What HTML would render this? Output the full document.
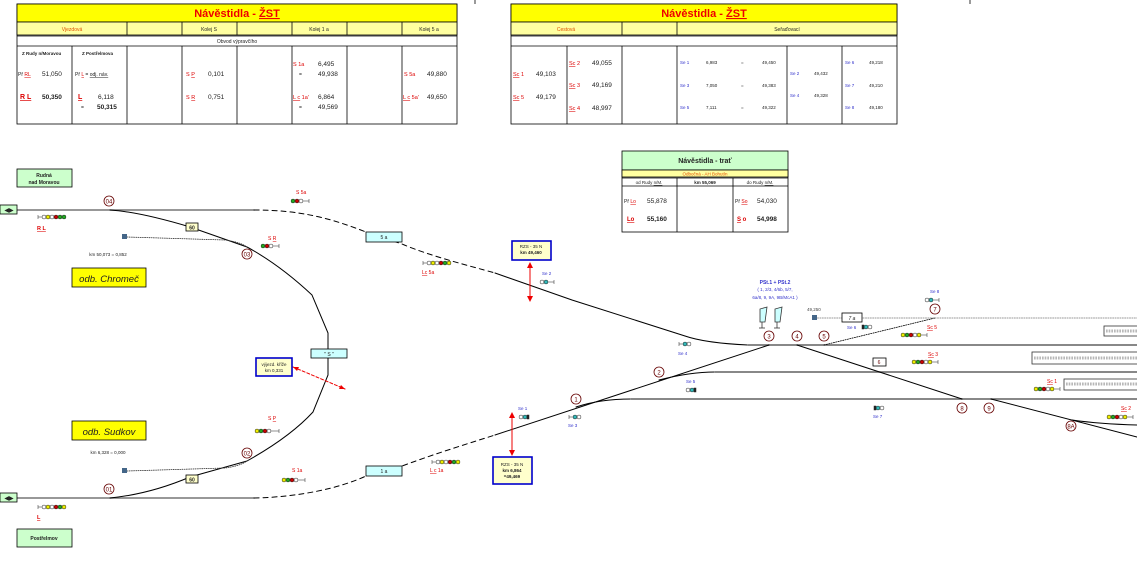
<!DOCTYPE html>
<html><head><meta charset="utf-8"><style>
html,body{margin:0;padding:0;background:#fff}
svg{display:block}
text{font-family:"Liberation Sans",sans-serif}
.s{font-size:5px;fill:#222}
.r{font-size:5.5px;fill:#d00}
.b{font-size:5px;fill:#33c}
.n{font-size:6.5px;fill:#222}
.c{fill:#fff;stroke:#600;stroke-width:0.8}
.ct{font-size:6px;fill:#600;text-anchor:middle}
</style></head><body>
<svg width="1137" height="561" viewBox="0 0 1137 561" xmlns="http://www.w3.org/2000/svg">
<line x1="475" y1="0" x2="475" y2="4" stroke="#000" stroke-width="0.8"/>
<line x1="970" y1="0" x2="970" y2="4" stroke="#000" stroke-width="0.8"/>

<!-- TABLE 1 -->
<g stroke="#000" stroke-width="0.8" fill="none">
<rect x="17" y="4" width="440" height="120" fill="#fff"/>
<rect x="17" y="4" width="440" height="18" fill="#ffff00"/>
<rect x="17" y="22" width="440" height="13" fill="#ffffa0"/>
<line x1="17" y1="36" x2="457" y2="36"/>
<line x1="17" y1="46" x2="457" y2="46"/>
<line x1="127" y1="22" x2="127" y2="35"/><line x1="182" y1="22" x2="182" y2="35"/><line x1="237" y1="22" x2="237" y2="35"/><line x1="292" y1="22" x2="292" y2="35"/><line x1="347" y1="22" x2="347" y2="35"/><line x1="402" y1="22" x2="402" y2="35"/>
<line x1="72" y1="46" x2="72" y2="124"/><line x1="127" y1="46" x2="127" y2="124"/><line x1="182" y1="46" x2="182" y2="124"/><line x1="237" y1="46" x2="237" y2="124"/><line x1="292" y1="46" x2="292" y2="124"/><line x1="347" y1="46" x2="347" y2="124"/><line x1="402" y1="46" x2="402" y2="124"/>
</g>
<text x="237" y="17" font-size="11" font-weight="bold" fill="#e00" text-anchor="middle">Návěstidla -  <tspan text-decoration="underline">ŽST</tspan></text>
<text x="72" y="31" font-size="5" fill="#e05000" text-anchor="middle">Vjezdová</text>
<text x="209" y="31" class="s" text-anchor="middle">Kolej S</text>
<text x="319" y="31" class="s" text-anchor="middle">Kolej 1 a</text>
<text x="429" y="31" class="s" text-anchor="middle">Kolej 5 a</text>
<text x="237" y="43" class="s" text-anchor="middle">Obvod  výpravčího</text>
<text x="22" y="55" font-size="4.5" font-weight="bold" fill="#222">Z Rudy n/Moravou</text>
<text x="82" y="55" font-size="4.5" font-weight="bold" fill="#222">Z Postřelmova</text>
<text x="18" y="76" class="s">Př <tspan fill="#d00" text-decoration="underline">RL</tspan></text>
<text x="42" y="76" class="n">51,050</text>
<text x="20" y="99" font-size="7" font-weight="bold" fill="#d00" text-decoration="underline">R L</text>
<text x="42" y="99" class="n" font-weight="bold">50,350</text>
<text x="75" y="76" class="s">Př <tspan fill="#d00" text-decoration="underline">L</tspan>   = <tspan text-decoration="underline">odj. náv.</tspan></text>
<text x="78" y="99" font-size="7" font-weight="bold" fill="#d00" text-decoration="underline">L</text>
<text x="98" y="99" class="n">6,118</text>
<text x="81" y="109" class="s">=</text>
<text x="97" y="109" class="n" font-weight="bold">50,315</text>
<text x="186" y="76" class="r">S <tspan text-decoration="underline">P</tspan></text>
<text x="208" y="76" class="n">0,101</text>
<text x="186" y="99" class="r">S <tspan text-decoration="underline">R</tspan></text>
<text x="208" y="99" class="n">0,751</text>
<text x="293" y="66" class="r">S 1a</text><text x="318" y="66" class="n">6,495</text>
<text x="299" y="76" class="s">=</text><text x="318" y="76" class="n">49,938</text>
<text x="293" y="99" class="r"><tspan text-decoration="underline">L c</tspan> 1a'</text><text x="318" y="99" class="n">6,864</text>
<text x="299" y="109" class="s">=</text><text x="318" y="109" class="n">49,569</text>
<text x="404" y="76" class="r">S 5a</text><text x="427" y="76" class="n">49,880</text>
<text x="403" y="99" class="r"><tspan text-decoration="underline">L c</tspan> 5a'</text><text x="427" y="99" class="n">49,650</text>

<!-- TABLE 2 -->
<g stroke="#000" stroke-width="0.8" fill="none">
<rect x="511" y="4" width="386" height="120" fill="#fff"/>
<rect x="511" y="4" width="386" height="18" fill="#ffff00"/>
<rect x="511" y="22" width="386" height="13" fill="#ffffa0"/>
<line x1="511" y1="36" x2="897" y2="36"/>
<line x1="511" y1="46" x2="897" y2="46"/>
<line x1="622" y1="22" x2="622" y2="35"/><line x1="677" y1="22" x2="677" y2="35"/>
<line x1="567" y1="46" x2="567" y2="124"/><line x1="622" y1="46" x2="622" y2="124"/><line x1="677" y1="46" x2="677" y2="124"/><line x1="787" y1="46" x2="787" y2="124"/><line x1="842" y1="46" x2="842" y2="124"/>
</g>
<text x="704" y="17" font-size="11" font-weight="bold" fill="#e00" text-anchor="middle">Návěstidla -  <tspan text-decoration="underline">ŽST</tspan></text>
<text x="566" y="31" font-size="5" fill="#e05000" text-anchor="middle">Cestová</text>
<text x="787" y="31" class="s" text-anchor="middle">Seřaďovací</text>
<text x="513" y="76" class="r"><tspan text-decoration="underline">Sc</tspan> 1</text><text x="536" y="76" class="n">49,103</text>
<text x="513" y="99" class="r"><tspan text-decoration="underline">Sc</tspan> 5</text><text x="536" y="99" class="n">49,179</text>
<text x="569" y="65" class="r"><tspan text-decoration="underline">Sc</tspan> 2</text><text x="592" y="65" class="n">49,055</text>
<text x="569" y="87" class="r"><tspan text-decoration="underline">Sc</tspan> 3</text><text x="592" y="87" class="n">49,169</text>
<text x="569" y="110" class="r"><tspan text-decoration="underline">Sc</tspan> 4</text><text x="592" y="110" class="n">48,997</text>
<g font-size="4.5" fill="#222">
<text x="680" y="64" fill="#33c">Se 1</text><text x="706" y="64">6,983</text><text x="741" y="64">=</text><text x="762" y="64">49,450</text>
<text x="680" y="87" fill="#33c">Se 3</text><text x="706" y="87">7,050</text><text x="741" y="87">=</text><text x="762" y="87">49,383</text>
<text x="680" y="109" fill="#33c">Se 5</text><text x="706" y="109">7,111</text><text x="741" y="109">=</text><text x="762" y="109">49,322</text>
<text x="790" y="75" fill="#33c">Se 2</text><text x="814" y="75">49,432</text>
<text x="790" y="97" fill="#33c">Se 4</text><text x="814" y="97">49,328</text>
<text x="845" y="64" fill="#33c">Se 6</text><text x="869" y="64">49,218</text>
<text x="845" y="87" fill="#33c">Se 7</text><text x="869" y="87">49,210</text>
<text x="845" y="109" fill="#33c">Se 8</text><text x="869" y="109">49,180</text>
</g>

<!-- TABLE TRAT -->
<g stroke="#000" stroke-width="0.8" fill="none">
<rect x="622" y="151" width="166" height="19" fill="#ccffcc"/>
<rect x="622" y="170" width="166" height="62" fill="#fff"/>
<rect x="622" y="170" width="166" height="7" fill="#ffffa0"/>
<line x1="622" y1="178" x2="788" y2="178"/>
<line x1="622" y1="186" x2="788" y2="186"/>
<line x1="677" y1="178" x2="677" y2="232"/><line x1="733" y1="178" x2="733" y2="232"/>
</g>
<text x="705" y="163" font-size="7" font-weight="bold" fill="#222" text-anchor="middle">Návěstidla  -  trať</text>
<text x="705" y="175.5" font-size="4.5" fill="#e05000" text-anchor="middle">Odbočná  -  AH Bohutín</text>
<text x="649" y="184" font-size="4.5" fill="#222" text-anchor="middle">od  Rudy <tspan text-decoration="underline">n/M.</tspan></text>
<text x="705" y="184" font-size="4.5" font-weight="bold" fill="#222" text-anchor="middle">km 55,069</text>
<text x="760" y="184" font-size="4.5" fill="#222" text-anchor="middle">do  Rudy <tspan text-decoration="underline">n/M.</tspan></text>
<text x="624" y="203" class="s">Př <tspan fill="#d00" text-decoration="underline">Lo</tspan></text><text x="647" y="203" class="n">55,878</text>
<text x="627" y="221" font-size="6" font-weight="bold" fill="#d00" text-decoration="underline">Lo</text><text x="647" y="221" class="n" font-weight="bold">55,160</text>
<text x="735" y="203" class="s">Př <tspan fill="#d00" text-decoration="underline">So</tspan></text><text x="757" y="203" class="n">54,030</text>
<text x="737" y="221" font-size="6" font-weight="bold" fill="#d00"><tspan text-decoration="underline">S</tspan> o</text><text x="757" y="221" class="n" font-weight="bold">54,998</text>

<!-- TRACKS -->
<g fill="none" stroke-linecap="round">
<line x1="17" y1="210" x2="254" y2="210" stroke="#777" stroke-width="1.6"/>
<line x1="17" y1="498" x2="254" y2="498" stroke="#777" stroke-width="1.6"/>
<path d="M254 210 C300 210 330 218 366 232 L402 244 C430 256 470 266 495 273" stroke="#000" stroke-width="1" stroke-dasharray="5,4"/>
<path d="M254 498 C300 497 340 488 366 476 L402 466 C440 452 470 443 495 435" stroke="#000" stroke-width="1" stroke-dasharray="5,4"/>
<path d="M495 273 L572 300 L685 336 Q705 343 748 345 L1137 345" stroke="#000" stroke-width="1"/>
<line x1="748" y1="345" x2="1137" y2="345" stroke="#777" stroke-width="1.8"/>
<path d="M495 435 L769 345" stroke="#000" stroke-width="1"/>
<path d="M659 380 Q690 372 715 372 L1137 372" stroke="#000" stroke-width="1"/>
<line x1="715" y1="372" x2="1137" y2="372" stroke="#777" stroke-width="1.8"/>
<path d="M576 407 Q600 399 631 399 L1137 399" stroke="#000" stroke-width="1"/>
<line x1="631" y1="399" x2="1137" y2="399" stroke="#777" stroke-width="1.8"/>
<line x1="797" y1="345" x2="962" y2="399" stroke="#000" stroke-width="1"/>
<line x1="991" y1="399" x2="1137" y2="437" stroke="#000" stroke-width="1"/>
<path d="M1072 420 Q1100 424 1137 425" stroke="#000" stroke-width="1"/>
<path d="M824 345 L935 318" stroke="#000" stroke-width="0.8" stroke-dasharray="1.2,1.2"/>
<line x1="815" y1="318" x2="1137" y2="318" stroke="#777" stroke-width="0.8" stroke-dasharray="1.2,1.2"/>
<path d="M110 210 Q140 212 190 227 L247 247 Q280 265 312 295 L328 333 L328 350" stroke="#000" stroke-width="1"/>
<path d="M328 358 L328 375 L313 412 Q290 437 247 461 L190 477 Q150 494 110 498" stroke="#000" stroke-width="1"/>
<path d="M127 237 L225 240 Q240 242 247 247" stroke="#333" stroke-width="0.8" stroke-dasharray="1,1.2"/>
<path d="M127 471 L225 468 Q240 466 247 461" stroke="#333" stroke-width="0.8" stroke-dasharray="1,1.2"/>
<path d="M293 367 L345 389" stroke="#e00" stroke-width="1" stroke-dasharray="3,2"/>
</g>
<polygon points="293,367 299,367 297,371" fill="#e00"/><polygon points="345,389 339,389 341,385" fill="#e00"/>

<g stroke="#e00" stroke-width="1"><line x1="530" y1="266" x2="530" y2="298"/><line x1="512" y1="416" x2="512" y2="452"/></g>
<g fill="#e00"><polygon points="530,262 527,268 533,268"/><polygon points="530,302 527,296 533,296"/><polygon points="512,412 509,418 515,418"/><polygon points="512,456 509,450 515,450"/></g>

<g stroke="#000" stroke-width="0.8">
<rect x="17" y="169" width="55" height="18" fill="#ccffcc"/>
<rect x="17" y="529" width="55" height="18" fill="#ccffcc"/>
<rect x="0" y="205" width="17" height="9" fill="#ccffcc"/>
<rect x="0" y="493" width="17" height="9" fill="#ccffcc"/>
<rect x="72" y="268" width="74" height="19" fill="#ffff00"/>
<rect x="72" y="421" width="74" height="19" fill="#ffff00"/>
<rect x="366" y="232" width="36" height="10" fill="#ccffff"/>
<rect x="366" y="466" width="36" height="10" fill="#ccffff"/>
<rect x="311" y="349" width="36" height="9" fill="#ccffff"/>
<rect x="186" y="223" width="12" height="8" fill="#ffffcc"/>
<rect x="186" y="475" width="12" height="8" fill="#ffffcc"/>
<rect x="842" y="313" width="20" height="9" fill="#fff"/>
<rect x="873" y="358" width="13" height="8" fill="#fff"/>
</g>
<g stroke="#00c" stroke-width="1.6" fill="#ffffcc">
<rect x="512" y="241" width="39" height="19"/>
<rect x="493" y="457" width="39" height="27"/>
<rect x="256" y="358" width="36" height="18"/>
</g>
<g font-size="5" fill="#222" text-anchor="middle">
<text x="44" y="177" font-family="Liberation Serif" font-weight="bold">Rudná</text>
<text x="44" y="184" font-family="Liberation Serif" font-weight="bold">nad Moravou</text>
<text x="44" y="540" font-family="Liberation Serif" font-weight="bold">Postřelmov</text>
<text x="9" y="212" font-size="6">◀▶</text><text x="9" y="500" font-size="6">◀▶</text>
<text x="109" y="282" font-size="9.5" font-family="Liberation Serif" font-style="italic">odb. Chromeč</text>
<text x="109" y="435" font-size="9.5" font-family="Liberation Serif" font-style="italic">odb. Sudkov</text>
<text x="384" y="239">5 a</text><text x="384" y="473">1 a</text><text x="329" y="356">" S "</text>
<text x="192" y="229.5" font-weight="bold">60</text><text x="192" y="481.5" font-weight="bold">60</text>
<text x="852" y="320" font-style="italic">7 a</text><text x="879" y="364" fill="#600">6</text>
<text x="531" y="248" font-size="4.5">RZS - 35 N</text><text x="531" y="254" font-size="4.5" font-weight="bold">km 49,460</text>
<text x="512" y="466" font-size="4.5">RZS - 35 N</text><text x="512" y="472" font-size="4.5" font-weight="bold">km 6,864</text><text x="512" y="478" font-size="4.5" font-weight="bold">=49,469</text>
<text x="274" y="366" font-size="4.5">výjezd. kříže</text><text x="274" y="372" font-size="4.5">km 0,331</text>
<text x="108" y="256" font-size="4.5">km  50,073 = 0,852</text>
<text x="108" y="454" font-size="4.5">km  6,328 = 0,000</text>
</g>
<text x="775" y="284" font-size="5" fill="#33c" font-weight="bold" text-anchor="middle">PSt.1 + PSt.2</text>
<text x="775" y="291" font-size="4.5" fill="#33c" text-anchor="middle">( 1, 2/3, 4/6b, 5/7,</text>
<text x="775" y="299" font-size="4.5" fill="#33c" text-anchor="middle">6a/8, 9, 9A, 9B/McA1 )</text>
<text x="807" y="311" font-size="4.5" fill="#444">49,250</text>

<g stroke="#333" stroke-width="0.8" fill="#fff">
<rect x="1104" y="326" width="40" height="10"/>
<rect x="1032" y="352" width="110" height="12"/>
<rect x="1064" y="379" width="80" height="11"/>
</g>
<g stroke="#888" stroke-width="3" stroke-dasharray="0.6,1"><line x1="1106" y1="331" x2="1137" y2="331"/><line x1="1034" y1="358" x2="1137" y2="358"/><line x1="1066" y1="384" x2="1137" y2="384"/></g>

<g stroke="#333" stroke-width="0.8" fill="#ccffff">
<path d="M760 309 L760 322 L765 322 L767 307 Z"/><path d="M775 309 L775 322 L780 322 L782 307 Z"/>
<line x1="762" y1="322" x2="762" y2="328" fill="none"/><line x1="777" y1="322" x2="777" y2="328" fill="none"/>
<line x1="759" y1="328" x2="765" y2="328"/><line x1="774" y1="328" x2="780" y2="328"/>
</g>
<rect x="812" y="315" width="5" height="5" fill="#468"/>
<rect x="122" y="234" width="5" height="5" fill="#468"/>
<rect x="122" y="468" width="5" height="5" fill="#468"/>

<g>
<circle class="c" cx="109" cy="201" r="5"/><text class="ct" x="109" y="203.5">04</text>
<circle class="c" cx="247" cy="254" r="5"/><text class="ct" x="247" y="256.5">03</text>
<circle class="c" cx="247" cy="453" r="5"/><text class="ct" x="247" y="455.5">02</text>
<circle class="c" cx="109" cy="489" r="5"/><text class="ct" x="109" y="491.5">01</text>
<circle class="c" cx="576" cy="399" r="5"/><text class="ct" x="576" y="401.5">1</text>
<circle class="c" cx="659" cy="372" r="5"/><text class="ct" x="659" y="374.5">2</text>
<circle class="c" cx="769" cy="336" r="5"/><text class="ct" x="769" y="338.5">3</text>
<circle class="c" cx="797" cy="336" r="5"/><text class="ct" x="797" y="338.5">4</text>
<circle class="c" cx="824" cy="336" r="5"/><text class="ct" x="824" y="338.5">5</text>
<circle class="c" cx="935" cy="309" r="5"/><text class="ct" x="935" y="311.5">7</text>
<circle class="c" cx="962" cy="408" r="5"/><text class="ct" x="962" y="410.5">8</text>
<circle class="c" cx="989" cy="408" r="5"/><text class="ct" x="989" y="410.5">9</text>
<circle class="c" cx="1071" cy="426" r="5"/><text class="ct" x="1071" y="428.5">8A</text>
</g>

<g stroke="#222" stroke-width="0.5">
<line x1="38" y1="217" x2="42" y2="217"/><line x1="38" y1="215" x2="38" y2="219"/>
<circle cx="44" cy="217" r="2" fill="#fff"/><circle cx="48" cy="217" r="2" fill="#ee0"/><circle cx="52" cy="217" r="2" fill="#fff"/><circle cx="56" cy="217" r="2" fill="#c00"/><circle cx="60" cy="217" r="2" fill="#2a2"/><circle cx="64" cy="217" r="2" fill="#2a2"/>
<line x1="38" y1="507" x2="42" y2="507"/><line x1="38" y1="505" x2="38" y2="509"/>
<circle cx="44" cy="507" r="2" fill="#fff"/><circle cx="48" cy="507" r="2" fill="#ee0"/><circle cx="52" cy="507" r="2" fill="#fff"/><circle cx="56" cy="507" r="2" fill="#c00"/><circle cx="60" cy="507" r="2" fill="#2a2"/><circle cx="64" cy="507" r="2" fill="#ee0"/>
<circle cx="293" cy="201" r="2" fill="#2a2"/><circle cx="297" cy="201" r="2" fill="#c00"/><circle cx="301" cy="201" r="2" fill="#fff"/><line x1="303" y1="201" x2="309" y2="201"/><line x1="309" y1="199" x2="309" y2="203"/>
<circle cx="263" cy="246" r="2" fill="#2a2"/><circle cx="267" cy="246" r="2" fill="#c00"/><circle cx="271" cy="246" r="2" fill="#fff"/><line x1="273" y1="246" x2="279" y2="246"/><line x1="279" y1="244" x2="279" y2="248"/>
<circle cx="257" cy="431" r="2" fill="#ee0"/><circle cx="261" cy="431" r="2" fill="#2a2"/><circle cx="265" cy="431" r="2" fill="#c00"/><circle cx="269" cy="431" r="2" fill="#fff"/><line x1="271" y1="431" x2="279" y2="431"/><line x1="279" y1="429" x2="279" y2="433"/>
<circle cx="284" cy="480" r="2" fill="#ee0"/><circle cx="288" cy="480" r="2" fill="#2a2"/><circle cx="292" cy="480" r="2" fill="#c00"/><circle cx="296" cy="480" r="2" fill="#fff"/><line x1="298" y1="480" x2="305" y2="480"/><line x1="305" y1="478" x2="305" y2="482"/>
<line x1="423" y1="263" x2="427" y2="263"/><line x1="423" y1="261" x2="423" y2="265"/>
<circle cx="429" cy="263" r="2" fill="#fff"/><circle cx="433" cy="263" r="2" fill="#ee0"/><circle cx="437" cy="263" r="2" fill="#fff"/><circle cx="441" cy="263" r="2" fill="#c00"/><circle cx="445" cy="263" r="2" fill="#2a2"/><circle cx="449" cy="263" r="2" fill="#ee0"/>
<line x1="432" y1="462" x2="436" y2="462"/><line x1="432" y1="460" x2="432" y2="464"/>
<circle cx="438" cy="462" r="2" fill="#fff"/><circle cx="442" cy="462" r="2" fill="#ee0"/><circle cx="446" cy="462" r="2" fill="#fff"/><circle cx="450" cy="462" r="2" fill="#c00"/><circle cx="454" cy="462" r="2" fill="#2a2"/><circle cx="458" cy="462" r="2" fill="#ee0"/>
<circle cx="542" cy="282" r="2" fill="#fff"/><circle cx="546" cy="282" r="2" fill="#3bb"/><line x1="548" y1="282" x2="554" y2="282"/><line x1="554" y1="280" x2="554" y2="284"/>
<circle cx="521" cy="417" r="2" fill="#fff"/><circle cx="525" cy="417" r="2" fill="#3bb"/><rect x="527" y="415" width="2" height="4" fill="#222"/>
<line x1="569" y1="417" x2="573" y2="417"/><line x1="569" y1="415" x2="569" y2="419"/><circle cx="575" cy="417" r="2" fill="#3bb"/><circle cx="579" cy="417" r="2" fill="#fff"/>
<line x1="679" y1="344" x2="683" y2="344"/><line x1="679" y1="342" x2="679" y2="346"/><circle cx="685" cy="344" r="2" fill="#3bb"/><circle cx="689" cy="344" r="2" fill="#fff"/>
<circle cx="688" cy="390" r="2" fill="#fff"/><circle cx="692" cy="390" r="2" fill="#3bb"/><rect x="694" y="388" width="2" height="4" fill="#222"/>
<rect x="862" y="325" width="2" height="4" fill="#222"/><circle cx="866" cy="327" r="2" fill="#3bb"/><circle cx="870" cy="327" r="2" fill="#fff"/>
<rect x="874" y="406" width="2" height="4" fill="#222"/><circle cx="878" cy="408" r="2" fill="#3bb"/><circle cx="882" cy="408" r="2" fill="#fff"/>
<circle cx="927" cy="300" r="2" fill="#fff"/><circle cx="931" cy="300" r="2" fill="#3bb"/><line x1="933" y1="300" x2="939" y2="300"/><line x1="939" y1="298" x2="939" y2="302"/>
<circle cx="903" cy="335" r="2" fill="#ee0"/><circle cx="907" cy="335" r="2" fill="#2a2"/><circle cx="911" cy="335" r="2" fill="#c00"/><circle cx="915" cy="335" r="2" fill="#fff"/><circle cx="919" cy="335" r="2" fill="#ee0"/><line x1="921" y1="335" x2="927" y2="335"/><line x1="927" y1="333" x2="927" y2="337"/>
<circle cx="914" cy="362" r="2" fill="#ee0"/><circle cx="918" cy="362" r="2" fill="#2a2"/><circle cx="922" cy="362" r="2" fill="#c00"/><circle cx="926" cy="362" r="2" fill="#fff"/><circle cx="930" cy="362" r="2" fill="#ee0"/><line x1="932" y1="362" x2="938" y2="362"/><line x1="938" y1="360" x2="938" y2="364"/>
<circle cx="1036" cy="389" r="2" fill="#ee0"/><circle cx="1040" cy="389" r="2" fill="#2a2"/><circle cx="1044" cy="389" r="2" fill="#c00"/><circle cx="1048" cy="389" r="2" fill="#fff"/><circle cx="1052" cy="389" r="2" fill="#ee0"/><line x1="1054" y1="389" x2="1060" y2="389"/><line x1="1060" y1="387" x2="1060" y2="391"/>
<circle cx="1109" cy="417" r="2" fill="#ee0"/><circle cx="1113" cy="417" r="2" fill="#2a2"/><circle cx="1117" cy="417" r="2" fill="#c00"/><circle cx="1121" cy="417" r="2" fill="#fff"/><circle cx="1125" cy="417" r="2" fill="#ee0"/><line x1="1127" y1="417" x2="1133" y2="417"/><line x1="1133" y1="415" x2="1133" y2="419"/>
</g>

<g font-size="5.5" fill="#d00" font-weight="bold">
<text x="37" y="230" text-decoration="underline">R L</text>
<text x="37" y="519" text-decoration="underline">L</text>
</g>
<g font-size="5" fill="#d00">
<text x="296" y="194">S 5a</text>
<text x="268" y="240">S <tspan text-decoration="underline">R</tspan></text>
<text x="268" y="420">S <tspan text-decoration="underline">P</tspan></text>
<text x="292" y="472">S 1a</text>
<text x="422" y="274"><tspan text-decoration="underline">Lc</tspan> 5a</text>
<text x="430" y="472"><tspan text-decoration="underline">L c</tspan> 1a</text>
<text x="927" y="329"><tspan text-decoration="underline">Sc</tspan> 5</text>
<text x="928" y="356"><tspan text-decoration="underline">Sc</tspan> 3</text>
<text x="1047" y="383"><tspan text-decoration="underline">Sc</tspan> 1</text>
<text x="1121" y="410"><tspan text-decoration="underline">Sc</tspan> 2</text>
</g>
<g font-size="4.5" fill="#33c">
<text x="542" y="275">Se 2</text>
<text x="518" y="410">Se 1</text>
<text x="568" y="427">Se 3</text>
<text x="678" y="355">Se 4</text>
<text x="686" y="383">Se 5</text>
<text x="847" y="329">Se 6</text>
<text x="873" y="418">Se 7</text>
<text x="930" y="293">Se 8</text>
</g>
</svg>
</body></html>
